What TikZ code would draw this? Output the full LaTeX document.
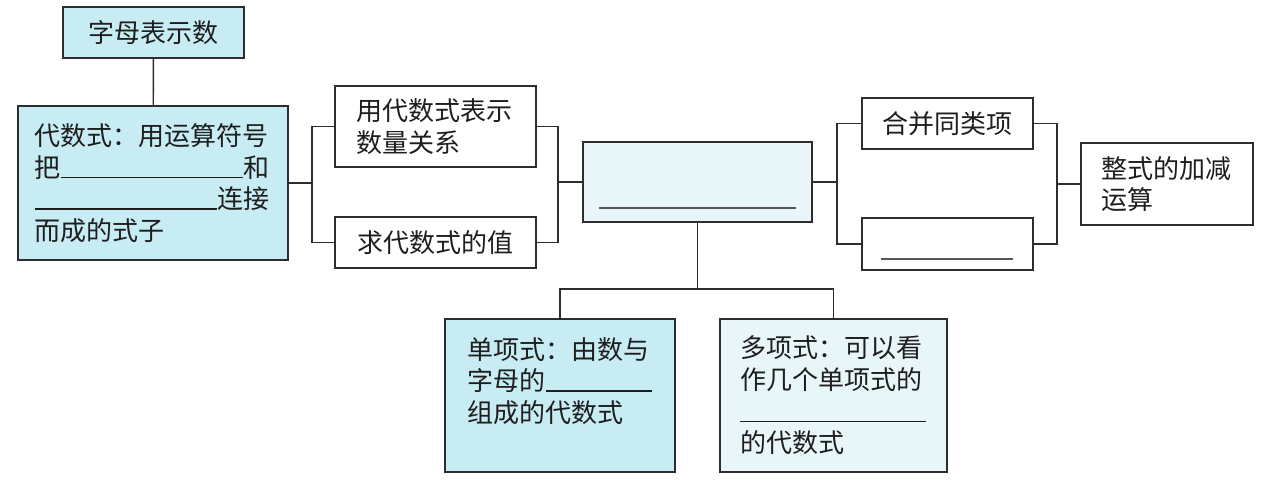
\documentclass[tikz,border=0pt]{standalone}
\usepackage{fontspec}
\setmainfont{Noto Sans CJK SC}
\definecolor{fillA}{RGB}{200,236,244}
\definecolor{fillB}{RGB}{232,246,249}
\definecolor{edge}{RGB}{45,45,45}
\definecolor{ink}{RGB}{30,30,30}
\newcommand{\blankrule}[1]{\rule[-0.5pt]{#1}{0.6pt}}
\begin{document}
\begin{tikzpicture}[x=0.02cm,y=-0.02cm,
  box/.style={draw=edge,line width=1.1pt,inner sep=0pt,text=ink,
    font=\fontsize{14.8pt}{18pt}\selectfont},
  bluebox/.style={box,fill=fillA},
  palebox/.style={box,fill=fillB},
  plainbox/.style={box,fill=white},
  link/.style={draw=edge,line width=0.8pt},
  blankline/.style={draw=edge!80,line width=0.7pt}]
\path[use as bounding box,fill=white] (0,0) rectangle (1262,480);
% nodes
\node[bluebox,minimum width=3.62cm,minimum height=1.02cm] (A) at (153.5,32.5) {字母表示数};
\node[bluebox,minimum width=5.40cm,minimum height=3.08cm,text width=4.74cm,align=left] (B) at (153,183)
  {代数式：用运算符号\\把\blankrule{3.66cm}和\\\blankrule{3.66cm}连接\\而成的式子};
\node[plainbox,minimum width=4.02cm,minimum height=1.62cm,text width=3.18cm,align=left] (C) at (435.5,126.5)
  {用代数式表示\\数量关系};
\node[plainbox,minimum width=4.02cm,minimum height=1.02cm] (D) at (435.5,242.5) {求代数式的值};
\node[palebox,minimum width=4.58cm,minimum height=1.60cm] (E) at (697.5,182) {};
\node[plainbox,minimum width=3.42cm,minimum height=1.02cm] (F) at (947.5,123.5) {合并同类项};
\node[plainbox,minimum width=3.42cm,minimum height=1.04cm] (G) at (947.5,244) {};
\node[plainbox,minimum width=3.44cm,minimum height=1.64cm,text width=2.62cm,align=left] (H) at (1167,184)
  {整式的加减\\运算};
\node[bluebox,minimum width=4.60cm,minimum height=3.06cm,text width=3.70cm,align=left] (I) at (560,395.5)
  {单项式：由数与\\字母的\blankrule{2.12cm}\\组成的代数式\\\mbox{}};
\node[palebox,minimum width=4.54cm,minimum height=3.06cm,text width=3.74cm,align=left] (J) at (833.5,395.5)
  {多项式：可以看\\作几个单项式的\\\blankrule{3.72cm}\\的代数式};
% blanks inside empty boxes
\draw[blankline] (599,208) -- (796,208);
\draw[blankline] (881,259) -- (1013,259);
% connectors
\coordinate (m0) at (312,183);
\coordinate (m1) at (558,182);
\coordinate (m2) at (837,182);
\coordinate (m3) at (1057,184);
\coordinate (m4) at (697.5,289);
\draw[link] (A) -- (B);
\draw[link] (B.east) -- (m0);
\draw[link] (C.west) -| (m0) |- (D.west);
\draw[link] (C.east) -| (m1) |- (D.east);
\draw[link] (m1) -- (E.west);
\draw[link] (E.east) -- (m2);
\draw[link] (F.west) -| (m2) |- (G.west);
\draw[link] (F.east) -| (m3) |- (G.east);
\draw[link] (m3) -- (H.west);
\draw[link] (E.south) -- (m4);
\draw[link] (I.north) |- (m4) -| (J.north);
\end{tikzpicture}
\end{document}
